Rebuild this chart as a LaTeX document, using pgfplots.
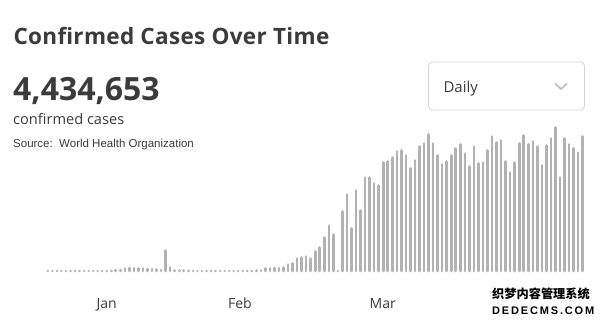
\documentclass[border=0pt]{standalone}
\usepackage{pgfplots}
\pgfplotsset{compat=1.18}
\usepackage{pgfplotstable}
\usepackage{fontspec}
\setmainfont{Open Sans}
\newfontfamily\arialf{Liberation Sans}
\newfontfamily\cjk{Noto Sans CJK SC}
\definecolor{txt}{HTML}{3B3B3B}
\definecolor{barc}{HTML}{B2B2B2}
\definecolor{boxc}{HTML}{D6D6D6}
\definecolor{chev}{HTML}{C4C4C4}

\pgfplotstableread{
i v
0 0
1 0
2 0
3 0
4 0
5 0
6 0
7 0
8 0
9 0
10 0
11 0
12 0
13 0
14 0.2
15 1
16 1
17 2.5
18 3
19 3
20 2.5
21 2.5
22 2
23 2
24 1.5
25 1
26 20.5
27 3.5
28 0.5
29 0.5
30 0.5
31 0.2
32 0.2
33 0
34 0
35 0
36 0
37 0
38 0
39 0
40 0
41 0
42 0
43 0
44 0
45 0
46 0.5
47 0.5
48 2.5
49 2.5
50 3
51 3
52 3.5
53 6.5
54 7.5
55 12.5
56 13.5
57 14.5
58 12.5
59 19.5
60 23.5
61 33.5
62 45.5
63 36.5
64 0
65 59.5
66 76.5
67 42.5
68 80.5
69 60.5
70 93.5
71 93.5
72 87.5
73 85.5
74 108.5
75 109.5
76 113.5
77 119.5
78 120.5
79 115.5
80 102.5
81 110.5
82 124.5
83 127.5
84 136.5
85 127.5
86 115.5
87 106.5
88 109.5
89 115.5
90 122.5
91 126.5
92 117.5
93 104.5
94 124.5
95 107.5
96 108.5
97 120.5
98 134.5
99 128.5
100 130.5
101 109.5
102 98.5
103 108.5
104 127.5
105 135.5
106 126.5
107 129.5
108 124.5
109 105.5
110 125.5
111 132.5
112 143.5
113 93.5
114 132.5
115 126.5
116 122.5
117 118.5
118 134.5
}\data

\begin{document}
\begin{tikzpicture}[x=1pt,y=1pt]
\useasboundingbox[fill=white] (0,0) rectangle (600,321);
\node[anchor=base west, inner sep=0, text=txt, font=\fontsize{22.5}{22.5}\selectfont\bfseries\addfontfeature{LetterSpace=1.5}] at (13.3,276.7) {Confirmed Cases Over Time};
\node[anchor=base west, inner sep=0, text=txt, font=\fontsize{32}{32}\selectfont\bfseries] at (13,220) {4,434,653};
\node[anchor=base west, inner sep=0, text=txt, font=\fontsize{14.6}{14.6}\selectfont] at (13,196) {confirmed cases};
\node[anchor=base west, inner sep=0, text=txt, font=\arialf\fontsize{11.5}{11.5}\selectfont] at (13,173.7) {Source:\ \ World Health Organization};
\draw[boxc, line width=0.8pt, rounded corners=4pt] (428.5,211) rectangle (584.5,259);
\node[anchor=base west, inner sep=0, text=txt, font=\fontsize{15}{15}\selectfont] at (443.3,228.7) {Daily};
\draw[chev, line width=1.8pt] (555,237.5) -- (561,232) -- (567,237.5);
\begin{axis}[at={(0,50)}, anchor=south west, scale only axis,
  width=600pt, height=160pt,
  xmin=-10.545, xmax=121.82, ymin=0, ymax=160, clip=false,
  axis line style={draw=none}, tick style={draw=none}, major tick length=0pt,
  ytick=\empty,
  xtick={13,42.4,73.9}, xticklabels={Jan,Feb,Mar},
  xticklabel style={anchor=base, yshift=-37.3pt, text=txt, font=\fontsize{14}{14}\selectfont}]
\addplot[ycomb, draw=barc, line width=2.6pt, line cap=round, mark=none] table[x=i,y=v] {\data};
\end{axis}
\node[anchor=base west, inner sep=0, font=\cjk\fontsize{12.2}{12.2}\selectfont\bfseries] at (492,22) {织梦内容管理系统};
\node[anchor=base west, inner sep=0, font=\arialf\fontsize{11}{11}\selectfont\bfseries] at (492,6) {D\,E\,D\,E\,C\,M\,S\,.\,C\,O\,M};
\end{tikzpicture}
\end{document}
